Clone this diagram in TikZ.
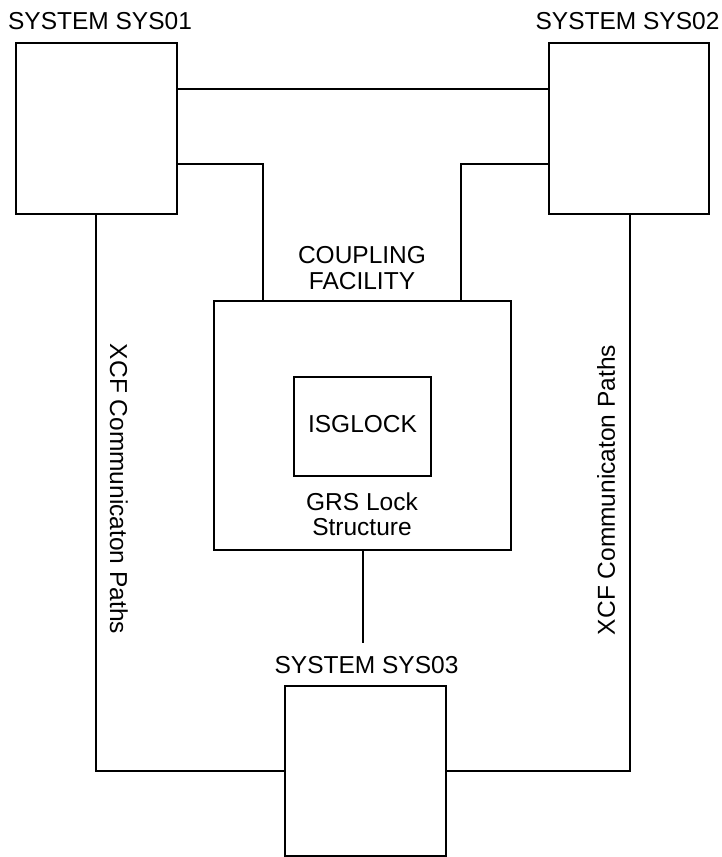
\documentclass[tikz,border=0pt]{standalone}
\usepackage{fontspec}
\setmainfont{Liberation Sans}
\usetikzlibrary{fit}
\begin{document}
\begin{tikzpicture}[x=1pt,y=-1pt,line width=2pt,
  sysbox/.style={draw, inner sep=0pt, line width=2pt},
  conn/.style={draw, line width=2pt},
  biglbl/.style={inner sep=0pt, font=\fontsize{24.5}{26}\selectfont},
  lbl/.style={inner sep=0pt, align=center, font=\fontsize{24.5}{25.5}\selectfont}]
\useasboundingbox[fill=white] (0,0) rectangle (721,857);
% boxes
\node[sysbox, fit={(16,43) (177,214)}] (s1) {};
\node[sysbox, fit={(549,43) (709,214)}] (s2) {};
\node[sysbox, fit={(214,301) (511,550)}] (cf) {};
\node[sysbox, fit={(294,377) (431,476)}] (isg) {};
\node[sysbox, fit={(285,686) (446,855.5)}] (s3) {};
% labels
\node[biglbl] (s1lbl) at (100,21) {SYSTEM SYS01};
\node[biglbl] (s2lbl) at (627.5,21) {SYSTEM SYS02};
\node[biglbl] (s3lbl) at (366.5,665.5) {SYSTEM SYS03};
\node[lbl] (cflbl) at (362,268) {COUPLING\\FACILITY};
\node[lbl] (isglbl) at (362.5,424) {ISGLOCK};
\node[lbl] (grslbl) at (362,514) {GRS Lock\\Structure};
\node[lbl, rotate=-90] (xcfl) at (119,489) {XCF Communicaton Paths};
\node[lbl, rotate=90] (xcfr) at (606,490) {XCF Communicaton Paths};
% connectors
\coordinate (t1) at (0,89);
\coordinate (t2) at (263,164);
\coordinate (t3) at (461,164);
\coordinate (l1) at (96,771);
\coordinate (r1) at (630,771);
\coordinate (cfend) at (363,643);
\draw[conn] (s1.east |- t1) -- (s2.west |- t1);
\draw[conn] (s1.east |- t2) -- (t2) -- (t2 |- cf.north);
\draw[conn] (s2.west |- t3) -- (t3) -- (t3 |- cf.north);
\draw[conn] (l1 |- s1.south) -- (l1) -- (l1 -| s3.west);
\draw[conn] (r1 |- s2.south) -- (r1) -- (r1 -| s3.east);
\draw[conn] (cf.south -| cfend) -- (cfend);
\end{tikzpicture}
\end{document}
